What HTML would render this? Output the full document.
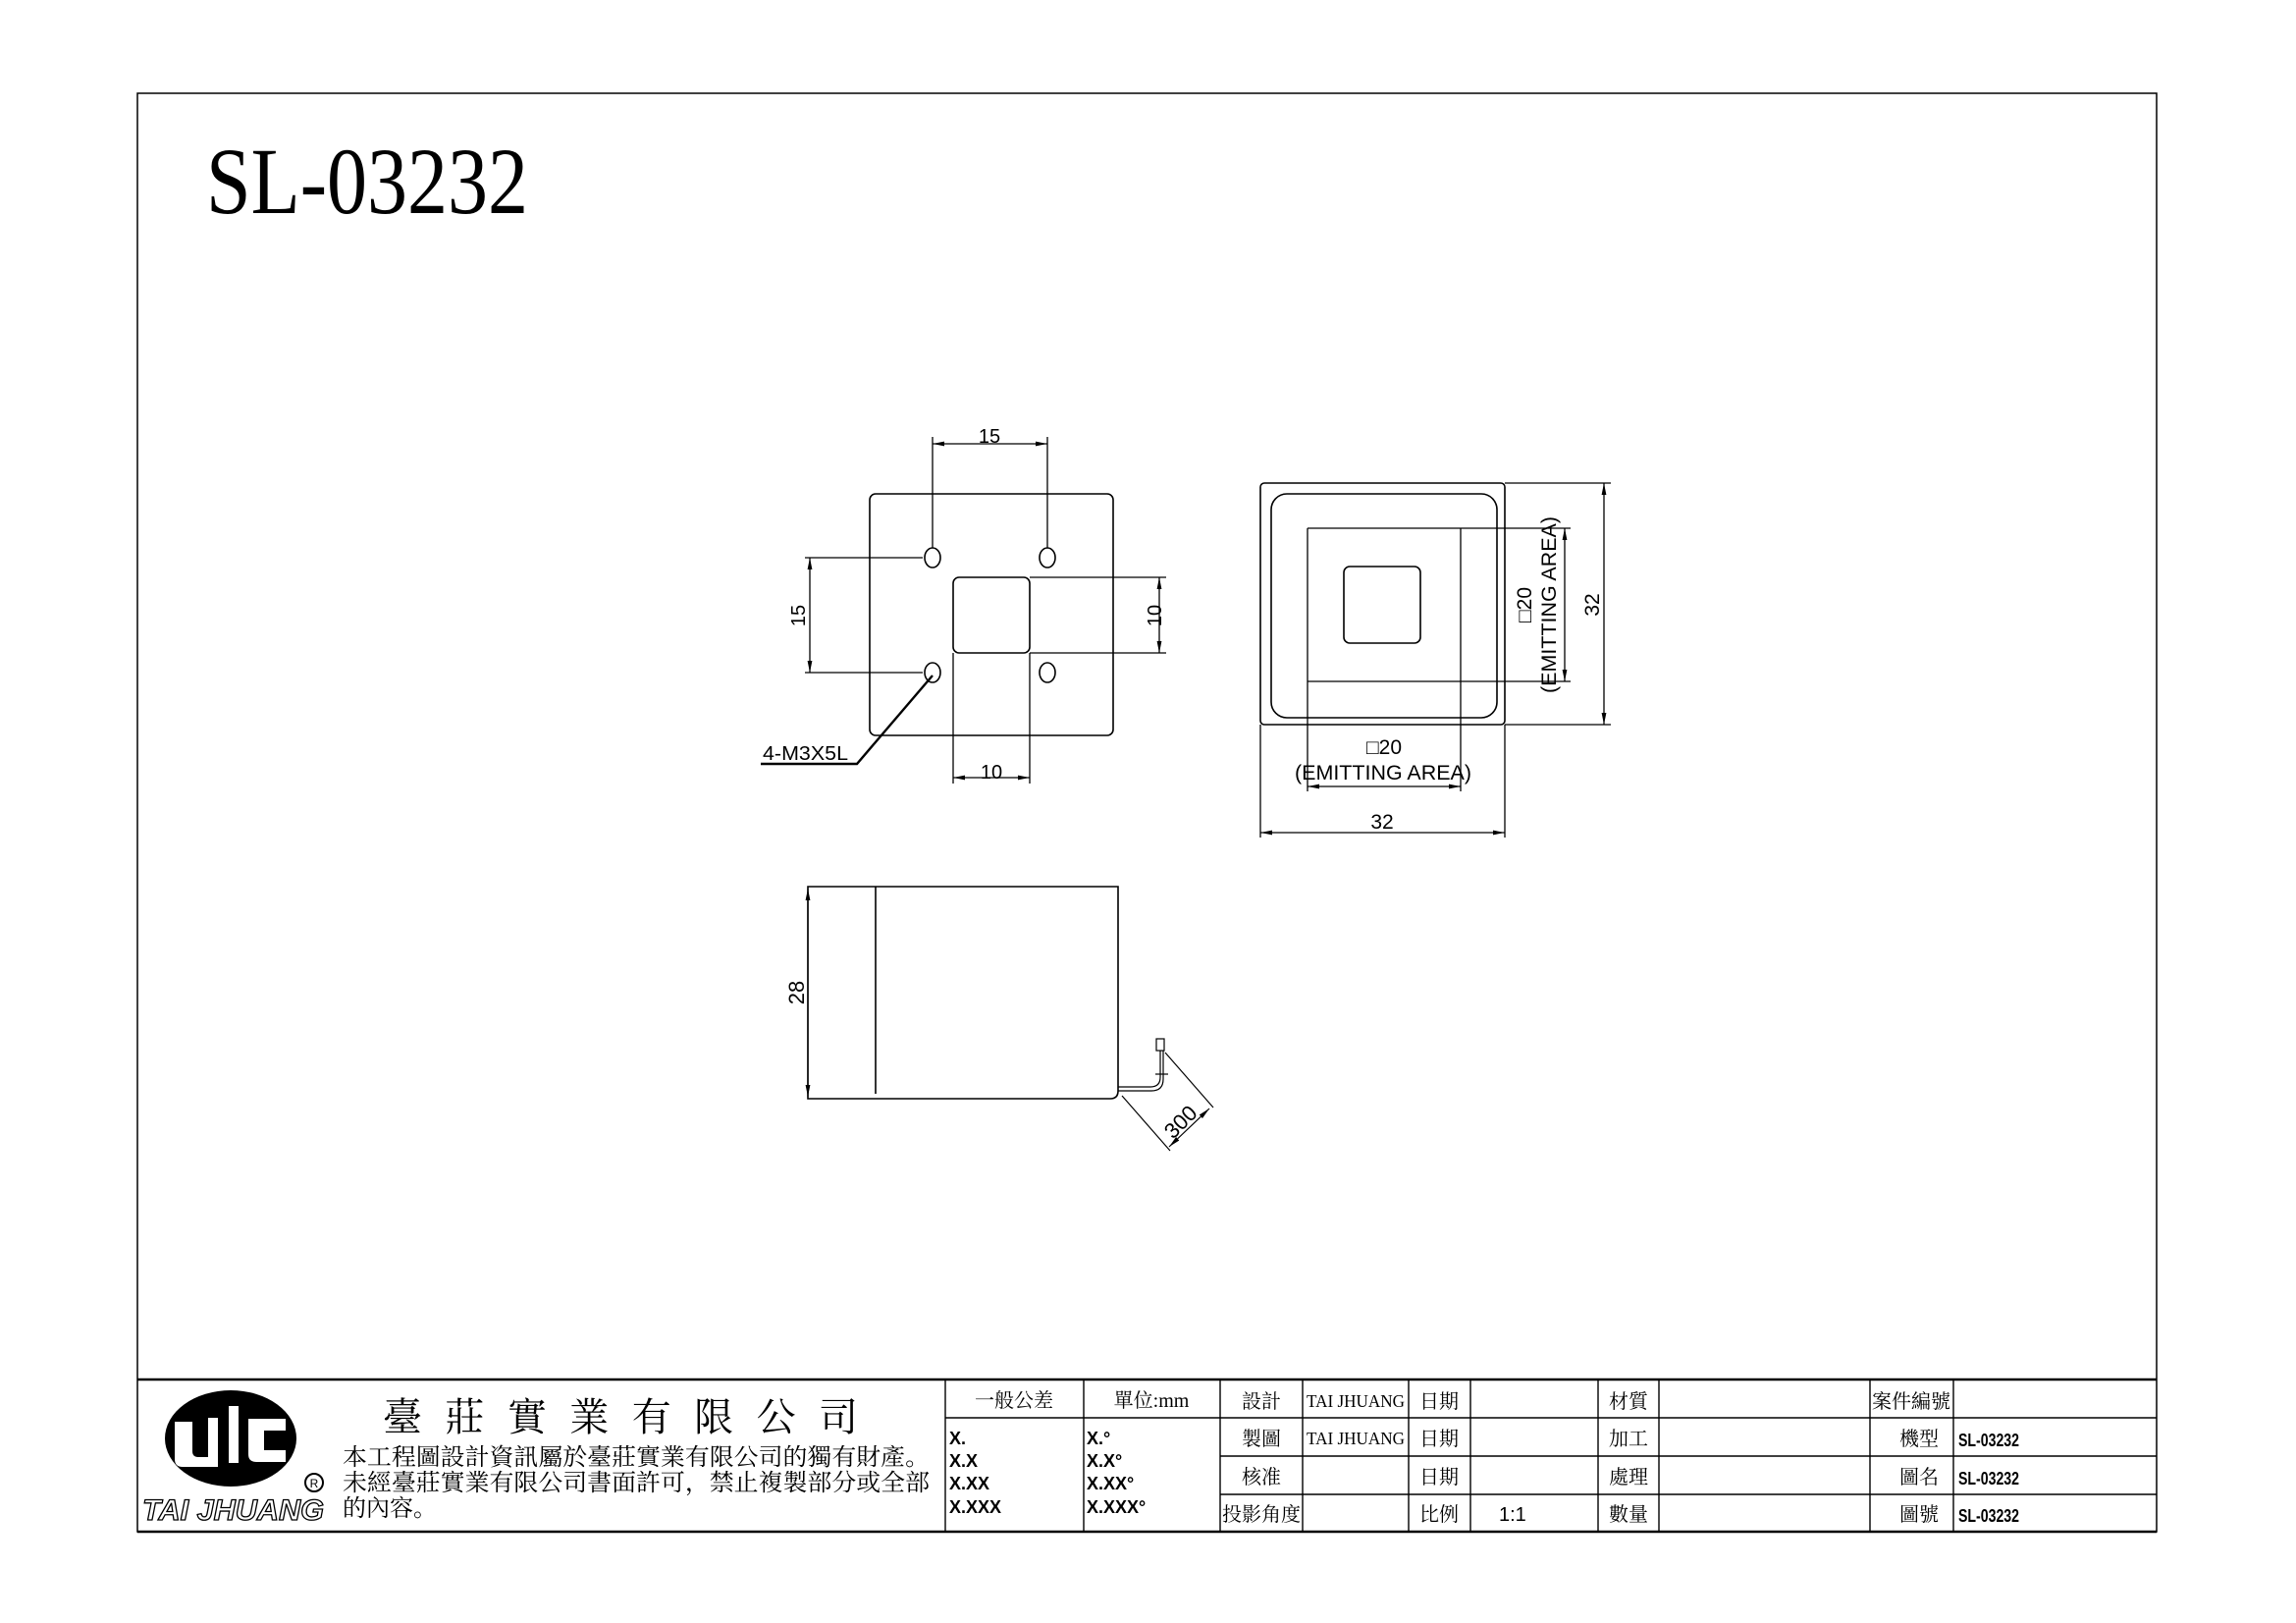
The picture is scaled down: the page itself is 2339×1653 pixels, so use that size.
<!DOCTYPE html>
<html><head><meta charset="utf-8"><style>html,body{margin:0;padding:0;background:#fff}svg{display:block}</style></head>
<body>
<svg width="2339" height="1653" viewBox="0 0 2339 1653" xmlns="http://www.w3.org/2000/svg">
<defs>
<marker id="a" viewBox="0 0 10 10" refX="10" refY="5" markerWidth="12" markerHeight="12" markerUnits="userSpaceOnUse" orient="auto-start-reverse"><path d="M0,3 L10,5 L0,7 z" fill="#000"/></marker>
</defs>
<g fill="none" stroke="#000" stroke-width="1.6">
<rect x="140" y="95" width="2057" height="1465" stroke-width="1.5"/>
<line x1="140" y1="1405" x2="2197" y2="1405" stroke-width="2.5"/>
<line x1="140" y1="1560" x2="2197" y2="1560" stroke-width="2.5"/>
</g>
<text x="210" y="217" font-family="Liberation Serif, serif" font-size="96" textLength="328" lengthAdjust="spacingAndGlyphs">SL-03232</text>

<!-- Front view -->
<g fill="none" stroke="#000" stroke-width="1.6">
<rect x="886" y="503" width="248" height="246" rx="6"/>
<ellipse cx="950" cy="568" rx="8" ry="10"/><ellipse cx="1067" cy="568" rx="8" ry="10"/>
<ellipse cx="950" cy="685" rx="8" ry="10"/><ellipse cx="1067" cy="685" rx="8" ry="10"/>
<rect x="971" y="588" width="78" height="77" rx="6"/>
</g>
<g fill="none" stroke="#000" stroke-width="1.3">
<line x1="950" y1="558" x2="950" y2="445"/><line x1="1067" y1="558" x2="1067" y2="445"/>
<line x1="950" y1="452" x2="1067" y2="452" marker-start="url(#a)" marker-end="url(#a)"/>
<line x1="940" y1="568" x2="820" y2="568"/><line x1="940" y1="685" x2="820" y2="685"/>
<line x1="825" y1="568" x2="825" y2="685" marker-start="url(#a)" marker-end="url(#a)"/>
<line x1="1049" y1="588" x2="1188" y2="588"/><line x1="1049" y1="665" x2="1188" y2="665"/>
<line x1="1181" y1="588" x2="1181" y2="665" marker-start="url(#a)" marker-end="url(#a)"/>
<line x1="971" y1="665" x2="971" y2="798"/><line x1="1049" y1="665" x2="1049" y2="798"/>
<line x1="971" y1="792" x2="1049" y2="792" marker-start="url(#a)" marker-end="url(#a)"/>
<polyline points="950,688 873,778 775,778" stroke-width="2.4"/>
</g>
<g font-family="Liberation Sans, sans-serif" font-size="20" fill="#000" text-anchor="middle">
<text x="1008" y="451">15</text>
<text x="1010" y="793">10</text>
<text transform="translate(820,627) rotate(-90)">15</text>
<text transform="translate(1183,627) rotate(-90)">10</text>
<text x="777" y="774" text-anchor="start" textLength="87" lengthAdjust="spacingAndGlyphs">4-M3X5L</text>
</g>

<!-- Right view -->
<g fill="none" stroke="#000" stroke-width="1.6">
<rect x="1284" y="492" width="249" height="246" rx="4"/>
<rect x="1295" y="503" width="230" height="228" rx="16"/>
<rect x="1369" y="577" width="78" height="78" rx="6"/>
</g>
<g fill="none" stroke="#000" stroke-width="1.3">
<line x1="1332" y1="538" x2="1600" y2="538"/><line x1="1332" y1="694" x2="1600" y2="694"/>
<line x1="1594" y1="538" x2="1594" y2="694" marker-start="url(#a)" marker-end="url(#a)"/>
<line x1="1332" y1="538" x2="1332" y2="806"/><line x1="1488" y1="538" x2="1488" y2="806"/>
<line x1="1332" y1="801" x2="1488" y2="801" marker-start="url(#a)" marker-end="url(#a)"/>
<line x1="1533" y1="492" x2="1641" y2="492"/><line x1="1533" y1="738" x2="1641" y2="738"/>
<line x1="1634" y1="492" x2="1634" y2="738" marker-start="url(#a)" marker-end="url(#a)"/>
<line x1="1284" y1="738" x2="1284" y2="853"/><line x1="1533" y1="738" x2="1533" y2="853"/>
<line x1="1284" y1="848" x2="1533" y2="848" marker-start="url(#a)" marker-end="url(#a)"/>
</g>
<g font-family="Liberation Sans, sans-serif" font-size="21" fill="#000" text-anchor="middle">
<text x="1410" y="768">□20</text>
<text x="1409" y="794" textLength="180" lengthAdjust="spacingAndGlyphs">(EMITTING AREA)</text>
<text x="1408" y="844">32</text>
<text transform="translate(1560,616) rotate(-90)">□20</text>
<text transform="translate(1585,616) rotate(-90)" textLength="180" lengthAdjust="spacingAndGlyphs">(EMITTING AREA)</text>
<text transform="translate(1629,616) rotate(-90)">32</text>
</g>

<!-- Side view -->
<g fill="none" stroke="#000" stroke-width="1.6">
<path d="M823,903 H1139 V1111 Q1139,1119 1131,1119 H823 Z"/>
<line x1="892" y1="903" x2="892" y2="1114"/>
</g>
<g fill="none" stroke="#000" stroke-width="1.2">
<line x1="823" y1="905" x2="823" y2="1117" marker-start="url(#a)" marker-end="url(#a)"/>
<path d="M1139,1107 H1172 Q1182,1107 1182,1097 V1070"/>
<path d="M1139,1111 H1173 Q1185,1111 1185,1099 V1070"/>
<rect x="1178" y="1058" width="8" height="12"/>
<line x1="1177" y1="1094" x2="1190" y2="1094"/>
<line x1="1187" y1="1072" x2="1236" y2="1128"/>
<line x1="1143" y1="1116" x2="1192" y2="1172"/>
<line x1="1232" y1="1129" x2="1191" y2="1168" marker-start="url(#a)" marker-end="url(#a)"/>
</g>
<g font-family="Liberation Sans, sans-serif" font-size="22" fill="#000" text-anchor="middle">
<text transform="translate(819,1011) rotate(-90)">28</text>
<text transform="translate(1208,1148) rotate(-45)">300</text>
</g>

<!-- Title block grid -->
<g stroke="#000" stroke-width="1.4" fill="none">
<line x1="963" y1="1405" x2="963" y2="1560"/>
<line x1="1104" y1="1405" x2="1104" y2="1560"/>
<line x1="963" y1="1444" x2="1243" y2="1444"/>
<line x1="1243" y1="1405" x2="1243" y2="1560"/>
<line x1="1327" y1="1405" x2="1327" y2="1560"/>
<line x1="1435" y1="1405" x2="1435" y2="1560"/>
<line x1="1498" y1="1405" x2="1498" y2="1560"/>
<line x1="1628" y1="1405" x2="1628" y2="1560"/>
<line x1="1690" y1="1405" x2="1690" y2="1560"/>
<line x1="1905" y1="1405" x2="1905" y2="1560"/>
<line x1="1990" y1="1405" x2="1990" y2="1560"/>
<line x1="1243" y1="1444" x2="2197" y2="1444"/>
<line x1="1243" y1="1483" x2="2197" y2="1483"/>
<line x1="1243" y1="1522" x2="2197" y2="1522"/>
</g>

<!-- Logo -->
<ellipse cx="235" cy="1465" rx="67" ry="49" fill="#000"/>
<g fill="#fff">
<path d="M178,1448 h18 v30 q0,6 6,6 h10 v-40 h10 v50 h-36 q-8,0 -8,-8 z"/>
<rect x="233" y="1432" width="10" height="58"/>
<path d="M253,1445 h38 v12 h-22 v20 h22 v12 h-30 q-8,0 -8,-8 z"/>
</g>
<circle cx="320" cy="1510" r="9" fill="none" stroke="#000" stroke-width="2"/>
<text x="320" y="1515" font-family="Liberation Sans, sans-serif" font-size="12" text-anchor="middle" fill="#000">R</text>
<text x="145" y="1548" font-family="Liberation Sans, sans-serif" font-style="italic" font-weight="bold" font-size="30" fill="#fff" stroke="#000" stroke-width="1.3" textLength="185" lengthAdjust="spacingAndGlyphs">TAI JHUANG</text>

<g font-family="Liberation Serif, 'Noto Serif CJK SC', serif" fill="#000">
<text x="390" y="1457" font-size="40" textLength="484" lengthAdjust="spacing">臺莊實業有限公司</text>
<text x="349" y="1492" font-size="24" textLength="598" lengthAdjust="spacingAndGlyphs">本工程圖設計資訊屬於臺莊實業有限公司的獨有財產。</text>
<text x="349" y="1518" font-size="24" textLength="598" lengthAdjust="spacingAndGlyphs">未經臺莊實業有限公司書面許可，禁止複製部分或全部</text>
<text x="349" y="1544" font-size="24">的內容。</text>
<g font-size="20" text-anchor="middle">
<text x="1033" y="1433">一般公差</text>
<text x="1173" y="1433">單位:mm</text>
<text x="1285" y="1434">設計</text><text x="1285" y="1472">製圖</text><text x="1285" y="1511">核准</text><text x="1285" y="1549">投影角度</text>
<text x="1466" y="1434">日期</text><text x="1466" y="1472">日期</text><text x="1466" y="1511">日期</text><text x="1466" y="1549">比例</text>
<text x="1659" y="1434">材質</text><text x="1659" y="1472">加工</text><text x="1659" y="1511">處理</text><text x="1659" y="1549">數量</text>
<text x="1947" y="1434">案件編號</text><text x="1955" y="1472">機型</text><text x="1955" y="1511">圖名</text><text x="1955" y="1549">圖號</text>
</g>
<g font-size="18"><text x="1331" y="1433" textLength="100" lengthAdjust="spacingAndGlyphs">TAI JHUANG</text>
<text x="1331" y="1471" textLength="100" lengthAdjust="spacingAndGlyphs">TAI JHUANG</text></g>
</g>
<g font-family="Liberation Sans, sans-serif" font-weight="bold" font-size="18" fill="#000">
<text x="967" y="1471">X.</text><text x="967" y="1494">X.X</text><text x="967" y="1517">X.XX</text><text x="967" y="1541">X.XXX</text>
<text x="1107" y="1471">X.°</text><text x="1107" y="1494">X.X°</text><text x="1107" y="1517">X.XX°</text><text x="1107" y="1541">X.XXX°</text>
<text x="1995" y="1473" textLength="62" lengthAdjust="spacingAndGlyphs">SL-03232</text>
<text x="1995" y="1512" textLength="62" lengthAdjust="spacingAndGlyphs">SL-03232</text>
<text x="1995" y="1550" textLength="62" lengthAdjust="spacingAndGlyphs">SL-03232</text>
<text x="1527" y="1549" font-weight="normal" font-size="20">1:1</text>
</g>
</svg>
</body></html>
